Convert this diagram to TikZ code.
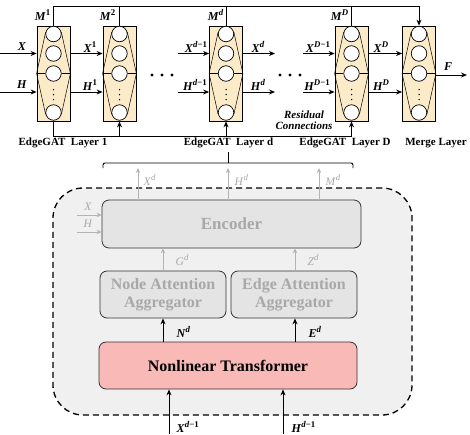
\documentclass[tikz,border=0pt]{standalone}
\usepackage{fontspec}
\setmainfont{Liberation Serif}
\usetikzlibrary{arrows.meta,calc}

\definecolor{layerfill}{HTML}{FCEBC8}
\definecolor{panelfill}{HTML}{F0F0F0}
\definecolor{boxfill}{HTML}{E4E4E4}
\definecolor{fadetext}{HTML}{A8A8A8}
\definecolor{fadearrow}{HTML}{B4B4B4}
\definecolor{transfill}{HTML}{F9B9B7}
\definecolor{edgedark}{HTML}{333333}

% bold italic symbol with bold superscript
\newcommand{\bsym}[2]{\textbf{\textit{#1}}\raisebox{4.8pt}{\fontsize{8.8}{9}\selectfont\bfseries #2}}
% light italic symbol with italic superscript
\newcommand{\lsym}[2]{\textit{#1}\raisebox{4.6pt}{\fontsize{8.8}{9}\selectfont\itshape #2}}

% one layer column: box, four neurons, vertical dots and fan lines
\newcommand{\gatlayer}[2]{%
  \node[layerbox] (#1) at (#2,73.5) {};
  \node[neuron] (#1-1) at (#2,34) {};
  \node[neuron] (#1-2) at (#2,53.5) {};
  \node[neuron] (#1-3) at (#2,73.5) {};
  \node[neuron] (#1-4) at (#2,112.5) {};
  \foreach \dy in {89.5,94.5,99.5} \fill (#2,\dy) circle (0.75pt);
  \draw[thinwire] (#1.west) -- (#1-3.west) (#1-3.east) -- (#1.east);
  \draw[thinwire] (#1-1.167) -- (#1.west) -- (#1-4.193);
  \draw[thinwire] (#1-1.13) -- (#1.east) -- (#1-4.347);
}

\begin{document}
\begin{tikzpicture}[x=1pt,y=-1pt,
  layerbox/.style={draw=black,line width=0.8pt,fill=layerfill,minimum width=33pt,minimum height=95pt,inner sep=0pt},
  neuron/.style={circle,draw=black,line width=0.7pt,fill=white,minimum size=15.5pt,inner sep=0pt},
  wire/.style={line width=0.9pt},
  thinwire/.style={line width=0.5pt},
  arr/.style={wire,-{Stealth[length=6pt,width=5pt]}},
  fadearr/.style={line width=0.9pt,draw=fadearrow,-{Stealth[length=5pt,width=4.5pt]}},
  sym/.style={font=\fontsize{12}{14}\selectfont,inner sep=0.5pt},
  fadesym/.style={font=\fontsize{11.5}{14}\selectfont,text=fadetext,inner sep=0.5pt},
  captext/.style={font=\fontsize{11}{13}\selectfont\bfseries,inner sep=0pt},
  notetext/.style={font=\fontsize{11}{13}\selectfont\bfseries\itshape,inner sep=0pt,align=center},
  block/.style={draw=edgedark,line width=0.8pt,rounded corners=7pt,inner sep=0pt},
  fadeblock/.style={block,fill=boxfill,text=fadetext,font=\fontsize{16}{18.5}\selectfont\bfseries,align=center},
  panel/.style={draw=black,fill=panelfill,line width=1.3pt,dash pattern=on 6pt off 4pt,rounded corners=30pt,minimum width=359pt,minimum height=227pt,inner sep=0pt}
]
\useasboundingbox (0,0) rectangle (470,434);

% ---------------- stacked EdgeGAT layers ----------------
\gatlayer{L1}{53.5}
\gatlayer{L2}{119.5}
\gatlayer{Ld}{226}
\gatlayer{LD}{351.5}
\gatlayer{Mg}{419}

% layer captions
\node[captext] (c1) at (63,143) {EdgeGAT\ \ Layer 1};
\node[captext] (cd) at (228.5,143) {EdgeGAT\ \ Layer d};
\node[captext] (cD) at (345,143) {EdgeGAT\ \ Layer D};
\node[captext] (cM) at (436,143) {Merge Layer};

% ellipses between layers
\foreach \px/\nm in {152/a,162/b,172/c,280/d,290/e,300/f}
  \fill (\px,75) circle (1.6pt) coordinate (dot\nm);

% M bus along the top into the merge layer
\coordinate (tl) at (53.5,6);
\coordinate (tr) at (419,6);
\draw[wire] (L1.north) -- (tl) -- (tr);
\draw[arr] (tr) -- (Mg.north);
\draw[wire] (L2.north) -- (L2.north |- tl);
\draw[wire] (Ld.north) -- (Ld.north |- tl);
\draw[wire] (LD.north) -- (LD.north |- tl);
\node[sym,anchor=east] (m1) at (51,15) {\bsym{M}{1}};
\node[sym,anchor=east] (m2) at (116,15) {\bsym{M}{2}};
\node[sym,anchor=east] (md) at (224,15) {\bsym{M}{\textit{d}}};
\node[sym,anchor=east] (mD) at (349,15) {\bsym{M}{\textit{D}}};

% residual bus along the bottom
\coordinate (bl) at (53.5,136);
\coordinate (br) at (351.5,136);
\draw[wire] (L1.south) -- (bl) -- (br);
\draw[arr] (L2.south |- bl) -- (L2.south);
\draw[arr] (Ld.south |- bl) -- (Ld.south);
\draw[arr] (br) -- (LD.south);
\node[notetext] (res) at (304,120) {Residual\\[-1.5pt]Connections};

% X and H streams
\coordinate (xin) at (0,53.5);
\coordinate (hin) at (0,92);
\coordinate (xdin) at (178,53.5);
\coordinate (hdin) at (178,92);
\coordinate (xdout) at (275,53.5);
\coordinate (hdout) at (275,92);
\coordinate (xDin) at (303,53.5);
\coordinate (hDin) at (303,92);
\draw[arr] (xin) -- (L1.west |- xin);
\draw[arr] (hin) -- (L1.west |- hin);
\draw[arr] (L1.east |- xin) -- (L2.west |- xin);
\draw[arr] (L1.east |- hin) -- (L2.west |- hin);
\draw[arr] (xdin) -- (Ld.west |- xdin);
\draw[arr] (hdin) -- (Ld.west |- hdin);
\draw[arr] (Ld.east |- xdout) -- (xdout);
\draw[arr] (Ld.east |- hdout) -- (hdout);
\draw[arr] (xDin) -- (LD.west |- xDin);
\draw[arr] (hDin) -- (LD.west |- hDin);
\draw[arr] (LD.east |- xin) -- (Mg.west |- xin);
\draw[arr] (LD.east |- hin) -- (Mg.west |- hin);
\coordinate (fout) at (467,75);
\draw[arr] (Mg.east |- fout) -- (fout);

\node[sym] (lx) at (22,47) {\textbf{\textit{X}}};
\node[sym] (lh) at (22,85) {\textbf{\textit{H}}};
\node[sym] (lx1) at (90,47) {\bsym{X}{1}};
\node[sym] (lh1) at (90,85) {\bsym{H}{1}};
\node[sym] (lxd1) at (196,47) {\bsym{X}{\textit{d}−1}};
\node[sym] (lhd1) at (195,85) {\bsym{H}{\textit{d}−1}};
\node[sym] (lxd) at (258,47) {\bsym{X}{\textit{d}}};
\node[sym] (lhd) at (258,85) {\bsym{H}{\textit{d}}};
\node[sym] (lxD1) at (318,47) {\bsym{X}{\textit{D}−1}};
\node[sym] (lhD1) at (317,85) {\bsym{H}{\textit{D}−1}};
\node[sym] (lxD) at (381,47) {\bsym{X}{\textit{D}}};
\node[sym] (lhD) at (381,85) {\bsym{H}{\textit{D}}};
\node[sym] (lf) at (448,67) {\textbf{\textit{F}}};

% ---------------- inside one layer ----------------
% bracket tying the detail panel to layer d
\coordinate (brl) at (103,168);
\coordinate (brr) at (353,168);
\coordinate (brm) at (228,163);
\draw[wire,rounded corners=2pt] (brl) -- (103,163) -- (353,163) -- (brr);
\draw[wire] (brm) -- (228,152);

\node[panel] (panel) at (232.5,301.5) {};

\node[fadeblock,minimum width=259pt,minimum height=48pt,font=\fontsize{17}{19}\selectfont\bfseries] (enc) at (231.5,224) {Encoder};
\node[fadeblock,minimum width=126pt,minimum height=47pt] (nagg) at (163,294.5) {Node Attention\\Aggregator};
\node[fadeblock,minimum width=126pt,minimum height=47pt] (eagg) at (294,294.5) {Edge Attention\\Aggregator};
\node[block,fill=transfill,minimum width=258pt,minimum height=47pt,font=\fontsize{16}{18}\selectfont\bfseries] (trans) at (228,365.5) {Nonlinear Transformer};

% encoder outputs
\coordinate (oxd) at (138,168);
\coordinate (ohd) at (228,168);
\coordinate (omd) at (319,168);
\draw[fadearr] (enc.north -| oxd) -- (oxd);
\draw[fadearr] (enc.north -| ohd) -- (ohd);
\draw[fadearr] (enc.north -| omd) -- (omd);
\node[fadesym,anchor=west] (gxd) at (143,180) {\lsym{X}{d}};
\node[fadesym,anchor=west] (ghd) at (234,180) {\lsym{H}{d}};
\node[fadesym,anchor=west] (gmd) at (325,180) {\lsym{M}{d}};

% encoder side inputs
\coordinate (ex) at (77,215);
\coordinate (eh) at (77,232);
\draw[fadearr] (ex) -- (enc.west |- ex);
\draw[fadearr] (eh) -- (enc.west |- eh);
\node[fadesym] (gx) at (88,207) {\textit{X}};
\node[fadesym] (gh) at (88,224) {\textit{H}};

% aggregators to encoder
\draw[fadearr] (nagg.north) -- (nagg.north |- enc.south);
\draw[fadearr] (eagg.north -| 295,0) -- (enc.south -| 295,0);
\node[fadesym,anchor=west] (ggd) at (175,260) {\lsym{G}{d}};
\node[fadesym,anchor=west] (gzd) at (307,260) {\lsym{Z}{d}};

% transformer to aggregators
\draw[arr] (trans.north -| nagg.south) -- (nagg.south);
\draw[arr] (trans.north -| 295,0) -- (eagg.south -| 295,0);
\node[sym,anchor=west] (lnd) at (176,332) {\bsym{N}{\textit{d}}};
\node[sym,anchor=west] (led) at (308,332) {\bsym{E}{\textit{d}}};

% inputs of the layer
\coordinate (ix) at (169,434);
\coordinate (ih) at (283,434);
\draw[arr] (ix) -- (trans.south -| ix);
\draw[arr] (ih) -- (trans.south -| ih);
\node[sym,anchor=west] (lxin) at (176,427) {\bsym{X}{\textit{d}−1}};
\node[sym,anchor=west] (lhin) at (291,427) {\bsym{H}{\textit{d}−1}};
\end{tikzpicture}
\end{document}
